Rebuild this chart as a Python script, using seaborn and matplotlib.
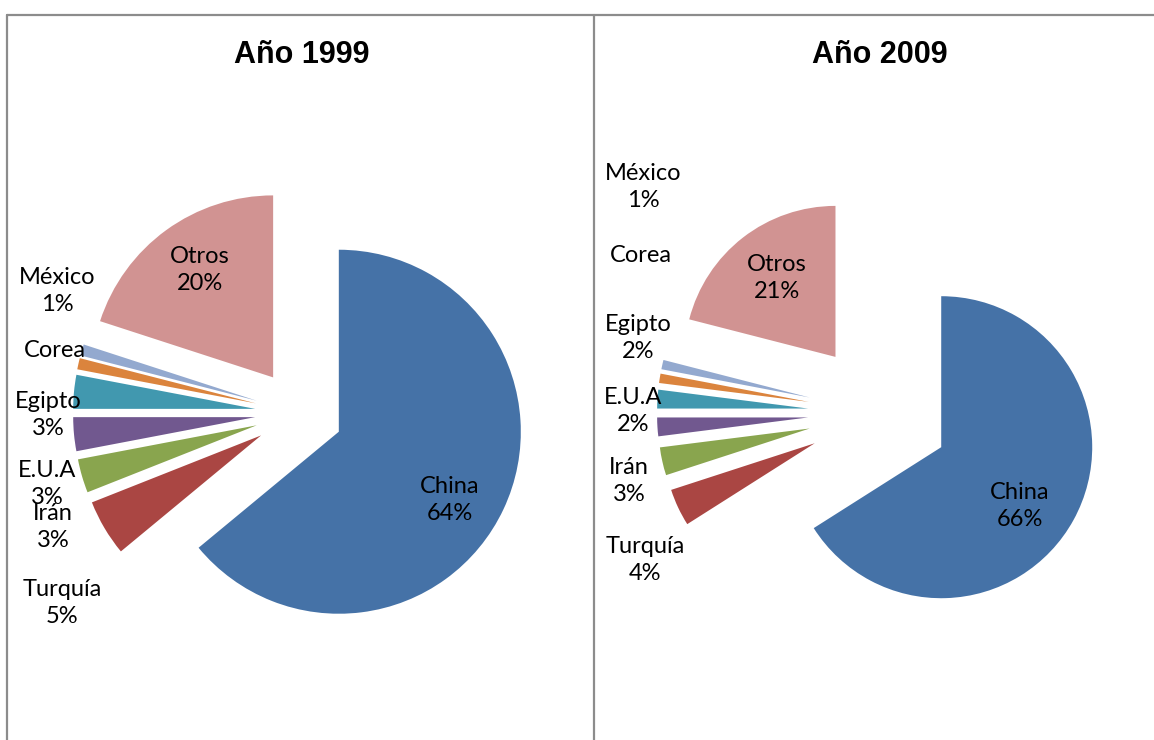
import matplotlib
matplotlib.use("Agg")
import matplotlib.pyplot as plt
import seaborn as sns
from matplotlib.lines import Line2D

sns.set_theme(style="white")
plt.rcParams['font.family'] = ['Lato', 'DejaVu Sans']

# ---- data ----
categories = ["China", "Turquía", "Irán", "E.U.A", "Egipto", "Corea", "México", "Otros"]
values_1999 = [64, 5, 3, 3, 3, 1, 1, 20]
values_2009 = [66, 4, 3, 2, 2, 1, 1, 21]
titles = ["Año 1999", "Año 2009"]
colors = ["#4572A7", "#AA4643", "#89A54E", "#71588F", "#4198AF", "#DB843D", "#93A9CF", "#D19392"]

W, H = 1154, 740
fig = plt.figure(figsize=(W / 100, H / 100), dpi=100)
fig.patch.set_facecolor("white")


def fx(px):
    return px / W


def fy(py):
    return 1 - py / H


def make_pie(cx, cy, r, vals, expl_px, L=300):
    ax = fig.add_axes([fx(cx - L), fy(cy + L), 2 * L / W, 2 * L / H])
    ax.pie(vals, colors=colors, startangle=90, counterclock=False,
           explode=[expl_px / r] * len(vals), radius=1,
           wedgeprops=dict(linewidth=0))
    lim = L / r
    ax.set_xlim(-lim, lim)
    ax.set_ylim(-lim, lim)
    ax.set_aspect("equal")
    ax.axis("off")
    ax.patch.set_alpha(0)
    return ax


ax1 = make_pie(299, 413, 182, values_1999, 44)
ax2 = make_pie(879, 413, 151, values_2009, 71)

# titles
for t, x in zip(titles, [302, 880]):
    fig.text(fx(x), fy(55), t, ha="center", va="center", fontsize=22,
             fontweight="bold", family=["Liberation Sans", "DejaVu Sans"], color="black")

# labels (positions in pixels)
lab_pos_1999 = {"China": (450, 500), "Turquía": (62, 603), "Irán": (53, 527),
                "E.U.A": (47, 484), "Egipto": (48, 415), "Corea": (55, 350),
                "México": (57, 291), "Otros": (200, 270)}
lab_pos_2009 = {"China": (1020, 506), "Turquía": (645, 560), "Irán": (629, 481),
                "E.U.A": (633, 411), "Egipto": (638, 338), "Corea": (641, 256),
                "México": (643, 187), "Otros": (777, 278)}

for vals, pos in [(values_1999, lab_pos_1999), (values_2009, lab_pos_2009)]:
    for cat, v in zip(categories, vals):
        x, y = pos[cat]
        txt = cat if cat == "Corea" else f"{cat}\n{v}%"
        fig.text(fx(x), fy(y), txt, ha="center", va="center", fontsize=17,
                 linespacing=1.38, color="black", multialignment="center")

# frame lines
lc = "#8c8c8c"
fig.add_artist(Line2D([fx(7), fx(1154)], [fy(15), fy(15)], color=lc, lw=1.6))
fig.add_artist(Line2D([fx(7), fx(7)], [fy(15), fy(740)], color=lc, lw=1.6))
fig.add_artist(Line2D([fx(594), fx(594)], [fy(15), fy(740)], color=lc, lw=1.6))

fig.savefig("out.png", dpi=100, facecolor="white")
